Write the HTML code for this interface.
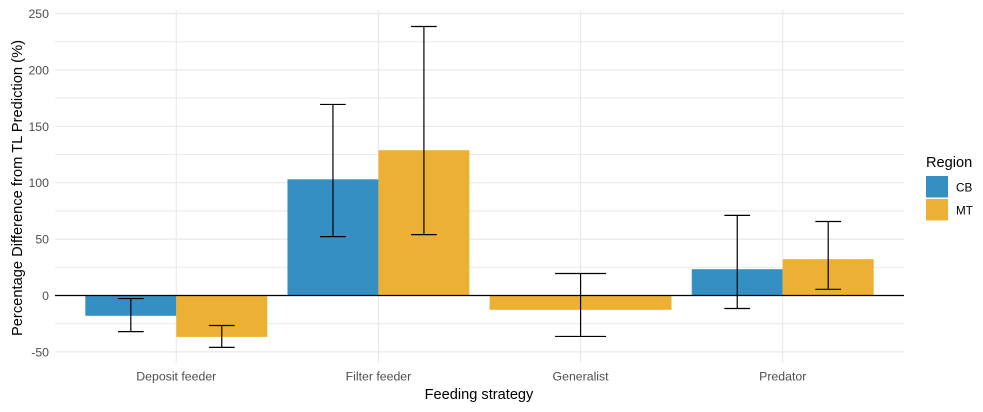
<!DOCTYPE html>
<html lang="en">
<head>
<meta charset="utf-8">
<title>Percentage Difference from TL Prediction</title>
<style>
html,body{margin:0;padding:0;background:#fff;width:983px;height:412px;overflow:hidden}
svg{display:block}
text{font-family:"Liberation Sans",Arial,sans-serif}
</style>
</head>
<body>
<svg id="chart" width="983" height="412" viewBox="0 0 983 412" xmlns="http://www.w3.org/2000/svg"></svg>
<script>
const categories = ["Deposit feeder", "Filter feeder", "Generalist", "Predator"];
const regions = ["CB", "MT"];
const regionColors = ["#348fc3", "#ecb134"];
const cbValues = [-18, 103, null, 23.3];
const cbLower = [-32, 52.2, null, -11.5];
const cbUpper = [-2.7, 169.4, null, 71];
const mtValues = [-36.7, 128.8, -12.7, 32.2];
const mtLower = [-46, 54, -36.3, 5.5];
const mtUpper = [-26.6, 238.5, 19.5, 65.6];
const yTicks = [-50, 0, 50, 100, 150, 200, 250];
const yMinorTicks = [-25, 25, 75, 125, 175, 225];

const svg = document.getElementById('chart');
const NS = 'http://www.w3.org/2000/svg';
const panelLeft = 55, panelRight = 904, panelTop = 10, panelBottom = 363;
const xStep = (panelRight - panelLeft) / (categories.length - 1 + 1.2);
const barBand = xStep * 0.9;

function xScale(i) { return panelLeft + xStep * (i + 0.6); }
function yScale(v) { return 295.5 - v * 1.128; }

function make(tag, attrs, text) {
  const el = document.createElementNS(NS, tag);
  for (const k in attrs) el.setAttribute(k, attrs[k]);
  if (text !== undefined) el.textContent = text;
  svg.appendChild(el);
  return el;
}

yMinorTicks.forEach(function (t) {
  const el = make('line', { x1: panelLeft, x2: panelRight, y1: yScale(t), y2: yScale(t), stroke: '#ebebeb', 'stroke-width': 1.1 });
  
  
});
yTicks.forEach(function (t) {
  const el = make('line', { x1: panelLeft, x2: panelRight, y1: yScale(t), y2: yScale(t), stroke: '#e9e9e9', 'stroke-width': 1.2 });
  
  
  const lab = make('text', { x: 49, y: yScale(t) + 4.5, 'text-anchor': 'end', 'font-size': 12.3, fill: '#4d4d4d' }, String(t));
  
  
});
categories.forEach(function (c, i) {
  const el = make('line', { x1: xScale(i), x2: xScale(i), y1: panelTop, y2: panelBottom, stroke: '#e9e9e9', 'stroke-width': 1.2 });
  
  
  const lab = make('text', { x: xScale(i), y: 380.5, 'text-anchor': 'middle', 'font-size': 12.3, fill: '#4d4d4d' }, c);
  
  
});

function drawBar(v, x, w, color) {
  const top = Math.min(yScale(v), yScale(0));
  const h = Math.abs(yScale(v) - yScale(0));
  const el = make('rect', { x: x, y: top, width: w, height: h, fill: color });
  
  
}

function drawError(lo, hi, cx, capW) {
  const stem = make('line', { x1: cx, x2: cx, y1: yScale(lo), y2: yScale(hi), stroke: '#000', 'stroke-width': 1.2 });
  
  
  [lo, hi].forEach(function (v) {
    const cap = make('line', { x1: cx - capW / 2, x2: cx + capW / 2, y1: yScale(v), y2: yScale(v), stroke: '#000', 'stroke-width': 1.2 });
    
    
  });
}

categories.forEach(function (c, i) {
  const cx = xScale(i);
  const hasCB = cbValues[i] !== null;
  const hasMT = mtValues[i] !== null;
  if (hasCB && hasMT) {
    drawBar(cbValues[i], cx - barBand / 2, barBand / 2, regionColors[0]);
    drawBar(mtValues[i], cx, barBand / 2, regionColors[1]);
  } else if (hasMT) {
    drawBar(mtValues[i], cx - barBand / 2, barBand, regionColors[1]);
  } else if (hasCB) {
    drawBar(cbValues[i], cx - barBand / 2, barBand, regionColors[0]);
  }
});

const zeroLine = make('line', { x1: panelLeft, x2: panelRight, y1: yScale(0), y2: yScale(0), stroke: '#000', 'stroke-width': 1.2 });



categories.forEach(function (c, i) {
  const cx = xScale(i);
  const hasCB = cbValues[i] !== null;
  const hasMT = mtValues[i] !== null;
  if (hasCB && hasMT) {
    drawError(cbLower[i], cbUpper[i], cx - barBand / 4, 25.7);
    drawError(mtLower[i], mtUpper[i], cx + barBand / 4, 25.7);
  } else if (hasMT) {
    drawError(mtLower[i], mtUpper[i], cx, 51);
  } else if (hasCB) {
    drawError(cbLower[i], cbUpper[i], cx, 51);
  }
});

const xTitle = make('text', { x: 479, y: 399, 'text-anchor': 'middle', 'font-size': 14.6, fill: '#000' }, 'Feeding strategy');



const yTitle = make('text', { x: 0, y: 0, transform: 'translate(22 188) rotate(-90)', 'text-anchor': 'middle', 'font-size': 14.7, fill: '#000' }, 'Percentage Difference from TL Prediction (%)');



const legendTitle = make('text', { x: 926, y: 167, 'font-size': 14.6, fill: '#000' }, 'Region');



regions.forEach(function (r, i) {
  const keyY = 176 + i * 23;
  const key = make('rect', { x: 926, y: keyY, width: 22, height: 21.5, fill: regionColors[i] });
  
  
  const lab = make('text', { x: 956, y: keyY + 15.5, 'font-size': 11.7, fill: '#000' }, r);
  
  
});
</script>
</body>
</html>
